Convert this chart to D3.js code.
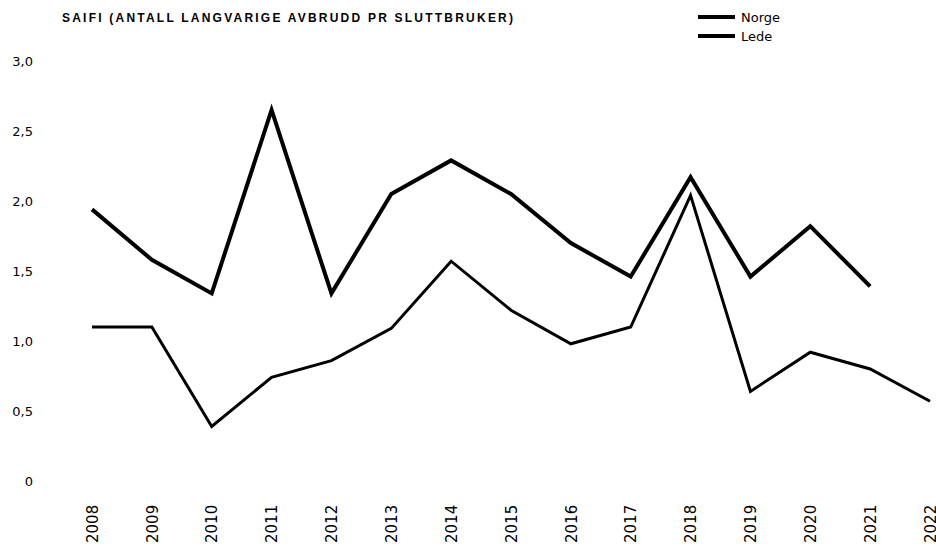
<!DOCTYPE html>
<html>
<head>
<meta charset="utf-8">
<script src="https://cdn.jsdelivr.net/npm/d3@7"></script>
<style>
  body { margin: 0; background: #fff; }
  svg { display: block; }
  text { fill: #000; }
</style>
</head>
<body>
<svg width="936" height="547"></svg>
<script>
// data
let years = ['2008','2009','2010','2011','2012','2013','2014','2015','2016','2017','2018','2019','2020','2021','2022']
let norge = [1.94, 1.58, 1.34, 2.65, 1.34, 2.05, 2.29, 2.05, 1.70, 1.46, 2.17, 1.46, 1.82, 1.39, null]
let lede = [1.10, 1.10, 0.39, 0.74, 0.86, 1.09, 1.57, 1.22, 0.98, 1.10, 2.04, 0.64, 0.92, 0.80, 0.57]
let yTicks = [0, 0.5, 1, 1.5, 2, 2.5, 3]

let series = [
  { name: 'Norge', values: norge, width: 4 },
  { name: 'Lede', values: lede, width: 3 }
]

let svg = d3.select('svg')

let x = d3.scalePoint().domain(years).range([92, 930])
let y = d3.scaleLinear().domain([0, 3]).range([481, 61])

let fmt = d => d === 0 ? '0' : d3.format('.1f')(d).replace('.', ',')

// y axis labels only, no lines
let yAxis = svg.append('g')
  .attr('transform', 'translate(33,0)')
  .call(d3.axisLeft(y).tickValues(yTicks).tickFormat(fmt).tickSize(0).tickPadding(0))
yAxis.select('.domain').remove()
yAxis.selectAll('text')
  .attr('font-family', 'DejaVu Sans')
  .attr('font-size', 13)

// x axis, rotated year labels
let xAxis = svg.append('g')
  .attr('transform', 'translate(0,543)')
  .call(d3.axisBottom(x).tickSize(0).tickPadding(0))
xAxis.select('.domain').remove()
xAxis.selectAll('text')
  .attr('font-family', 'DejaVu Sans')
  .attr('font-size', 15)
  .attr('transform', 'rotate(-90)')
  .attr('text-anchor', 'start')
  .attr('x', 0)
  .attr('y', 0)
  .attr('dy', '0.35em')

let line = d3.line()
  .defined(d => d != null)
  .x((d, i) => x(years[i]))
  .y(d => y(d))

svg.append('g')
  .selectAll('path')
  .data(series)
  .enter().append('path')
  .attr('d', d => line(d.values))
  .attr('fill', 'none')
  .attr('stroke', '#000')
  .attr('stroke-width', d => d.width)
  .attr('stroke-linejoin', 'miter')

// title
let title = svg.append('text')
  .attr('x', 62)
  .attr('y', 22)
  .attr('font-family', 'Liberation Sans')
  .attr('font-weight', 'bold')
  .attr('font-size', 12)
  .text('SAIFI (ANTALL LANGVARIGE AVBRUDD PR SLUTTBRUKER)')
let tw = title.node().getComputedTextLength()
let n = title.text().length
title.attr('letter-spacing', ((453 - tw) / n).toFixed(2) + 'px')

// legend
let legend = svg.append('g')
  .selectAll('g')
  .data(series)
  .enter().append('g')
  .attr('transform', (d, i) => `translate(698,${17 + i * 19})`)

legend.append('line')
  .attr('x1', 0).attr('x2', 37)
  .attr('stroke', '#000')
  .attr('stroke-width', 4)

legend.append('text')
  .attr('x', 43)
  .attr('dy', '0.35em')
  .attr('font-family', 'DejaVu Sans')
  .attr('font-size', 13)
  .text(d => d.name)
</script>
</body>
</html>
